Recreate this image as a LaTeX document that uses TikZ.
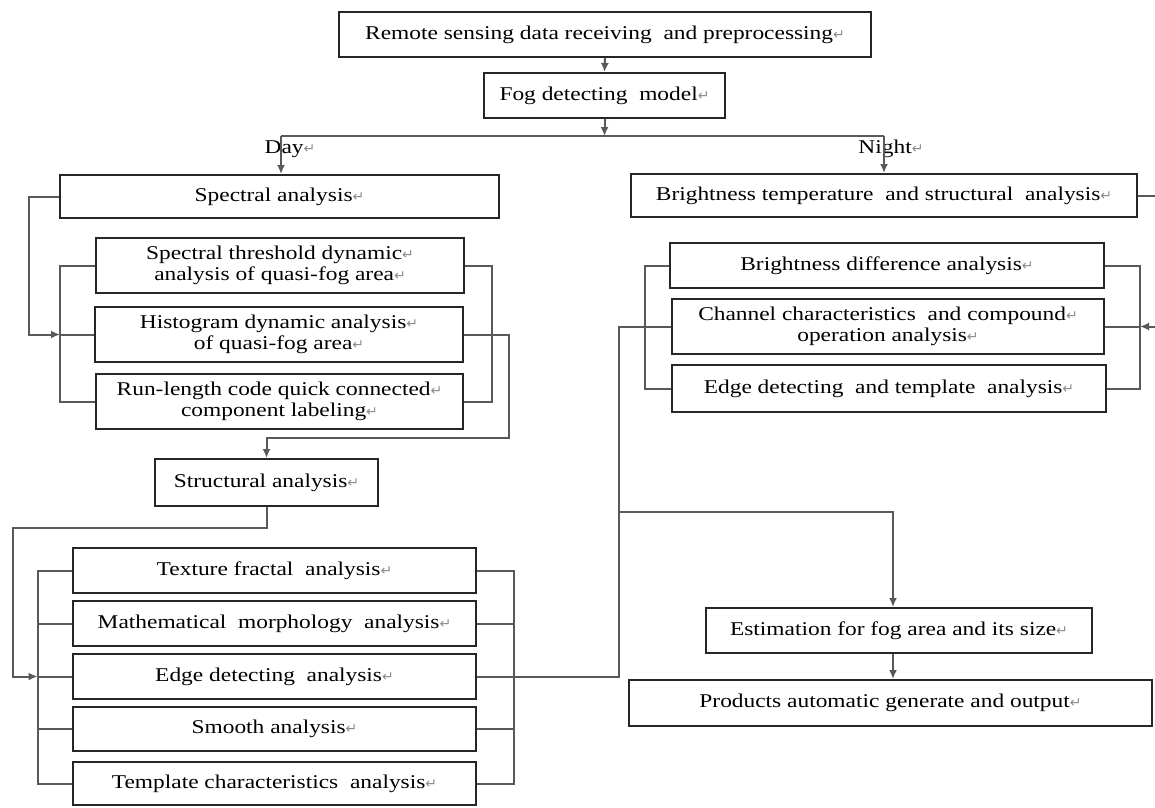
\documentclass[tikz,border=0pt]{standalone}
\usepackage{fontspec}
\setmainfont{Liberation Serif}[FakeStretch=1.2]
\newfontfamily\symfont{DejaVu Sans}
\usetikzlibrary{arrows.meta}
\newcommand\retmark{{\symfont\color{black!45}\fontsize{14}{14}\selectfont ↵}}
\tikzset{
  box/.style={draw=black!85, line width=2pt, inner sep=0pt, align=center,
    font=\fontsize{19.5}{20.5}\selectfont, text=black},
  conn/.style={draw=black!65, line width=2pt},
  arr/.style={conn, -{Latex[length=9pt,width=8pt]}},
  lbl/.style={font=\fontsize{19.5}{20.5}\selectfont, inner sep=0pt}
}
\begin{document}
\begin{tikzpicture}[x=1pt,y=-1pt]
\useasboundingbox (0,0) rectangle (1155,807);
\clip (0,0) rectangle (1155,807);
\fill[white] (0,0) rectangle (1155,807);

% boxes
\node[box, minimum width=532pt, minimum height=45pt] (title) at (605,34.5) {Remote sensing data receiving\ \ and preprocessing\retmark};
\node[box, minimum width=241pt, minimum height=45pt] (fog) at (604.5,95.5) {Fog detecting\ \ model\retmark};
\node[box, minimum width=439pt, minimum height=43pt] (spec) at (279.5,196.5) {Spectral analysis\retmark};
\node[box, minimum width=506pt, minimum height=43pt] (btemp) at (884,195.5) {Brightness temperature\ \ and structural\ \ analysis\retmark};

\node[box, minimum width=368pt, minimum height=55pt] (std) at (280,265.5) {Spectral threshold dynamic\retmark\\analysis of quasi-fog area\retmark};
\node[box, minimum width=368pt, minimum height=55pt] (hist) at (279,334.5) {Histogram dynamic analysis\retmark\\of quasi-fog area\retmark};
\node[box, minimum width=367pt, minimum height=55pt] (rl) at (279.5,401.5) {Run-length code quick connected\retmark\\component labeling\retmark};
\node[box, minimum width=223pt, minimum height=47pt] (struct) at (266.5,482.5) {Structural analysis\retmark};

\node[box, minimum width=403pt, minimum height=45pt] (tex) at (274.5,570.5) {Texture fractal\ \ analysis\retmark};
\node[box, minimum width=403pt, minimum height=45pt] (math) at (274.5,623.5) {Mathematical\ \ morphology\ \ analysis\retmark};
\node[box, minimum width=403pt, minimum height=45pt] (edge) at (274.5,676.5) {Edge detecting\ \ analysis\retmark};
\node[box, minimum width=403pt, minimum height=44pt] (smooth) at (274.5,729) {Smooth analysis\retmark};
\node[box, minimum width=403pt, minimum height=43pt] (templ) at (274.5,783.5) {Template characteristics\ \ analysis\retmark};

\node[box, minimum width=434pt, minimum height=45pt] (bd) at (887,265.5) {Brightness difference analysis\retmark};
\node[box, minimum width=432pt, minimum height=55pt] (ch) at (888,326.5) {Channel characteristics\ \ and compound\retmark\\operation analysis\retmark};
\node[box, minimum width=434pt, minimum height=47pt] (et) at (889,388.5) {Edge detecting\ \ and template\ \ analysis\retmark};

\node[box, minimum width=386pt, minimum height=45pt] (est) at (899,630.5) {Estimation for fog area and its size\retmark};
\node[box, minimum width=523pt, minimum height=46pt] (prod) at (890.5,703) {Products automatic generate and output\retmark};

% labels
\node[lbl] (daylbl) at (290,149) {Day\retmark};
\node[lbl] (nightlbl) at (891,149) {Night\retmark};

% coordinates
\coordinate (split) at (604.5,136);
\coordinate (dayc) at (281,136);
\coordinate (nightc) at (884,136);
\coordinate (lb1t) at (60,265.5);
\coordinate (lb1b) at (60,401.5);
\coordinate (lb1m) at (60,334.5);
\coordinate (rb1t) at (492,265.5);
\coordinate (rb1b) at (492,401.5);
\coordinate (lb2t) at (37.5,570.5);
\coordinate (lb2b) at (37.5,783.5);
\coordinate (lb2m) at (37.5,676.5);
\coordinate (rb2t) at (514,570.5);
\coordinate (rb2b) at (514,783.5);
\coordinate (lb3t) at (645,265.5);
\coordinate (lb3b) at (645,388.5);
\coordinate (rb3t) at (1140,265.5);
\coordinate (rb3b) at (1140,388.5);
\coordinate (rb3m) at (1140,326.5);
\coordinate (vx) at (619,512);
\coordinate (estc) at (893,512);

% top flow
\draw[arr] (title.south) -- (fog.north);
\draw[arr] (fog.south) -- (split);
\draw[conn] (dayc) -- (nightc);
\draw[arr] (dayc) -- (dayc |- spec.north);
\draw[arr] (nightc) -- (nightc |- btemp.north);

% day group 1
\draw[arr] (spec.west) -- (29,196.5) -- (29,334.5) -- (lb1m);
\draw[conn] (std.west) -- (lb1t) -- (lb1b) -- (rl.west);
\draw[conn] (lb1m) -- (hist.west);
\draw[conn] (std.east) -- (rb1t) -- (rb1b) -- (rl.east);
\draw[arr] (hist.east) -- (509,334.5) -- (509,438) -- (266.5,438) -- (struct.north);

% day group 2
\draw[arr] (struct.south) -- (266.5,528) -- (13,528) -- (13,676.5) -- (lb2m);
\draw[conn] (tex.west) -- (lb2t) -- (lb2b) -- (templ.west);
\draw[conn] (math.west) -- (math.west -| lb2t);
\draw[conn] (edge.west) -- (lb2m);
\draw[conn] (smooth.west) -- (smooth.west -| lb2t);
\draw[conn] (tex.east) -- (rb2t) -- (rb2b) -- (templ.east);
\draw[conn] (math.east) -- (math.east -| rb2t);
\draw[conn] (smooth.east) -- (smooth.east -| rb2t);
\draw[conn] (edge.east) -- (619,676.5) -- (619,326.5) -- (ch.west);

% night group
\draw[conn] (bd.west) -- (lb3t) -- (lb3b) -- (et.west);
\draw[conn] (bd.east) -- (rb3t) -- (rb3b) -- (et.east);
\draw[conn] (ch.east) -- (rb3m);
\draw[arr] (btemp.east) -- (1170,195.5) -- (1170,326.5) -- (rb3m);

% output
\draw[arr] (vx) -- (estc) -- (estc |- est.north);
\draw[arr] (estc |- est.south) -- (estc |- prod.north);
\end{tikzpicture}
\end{document}
